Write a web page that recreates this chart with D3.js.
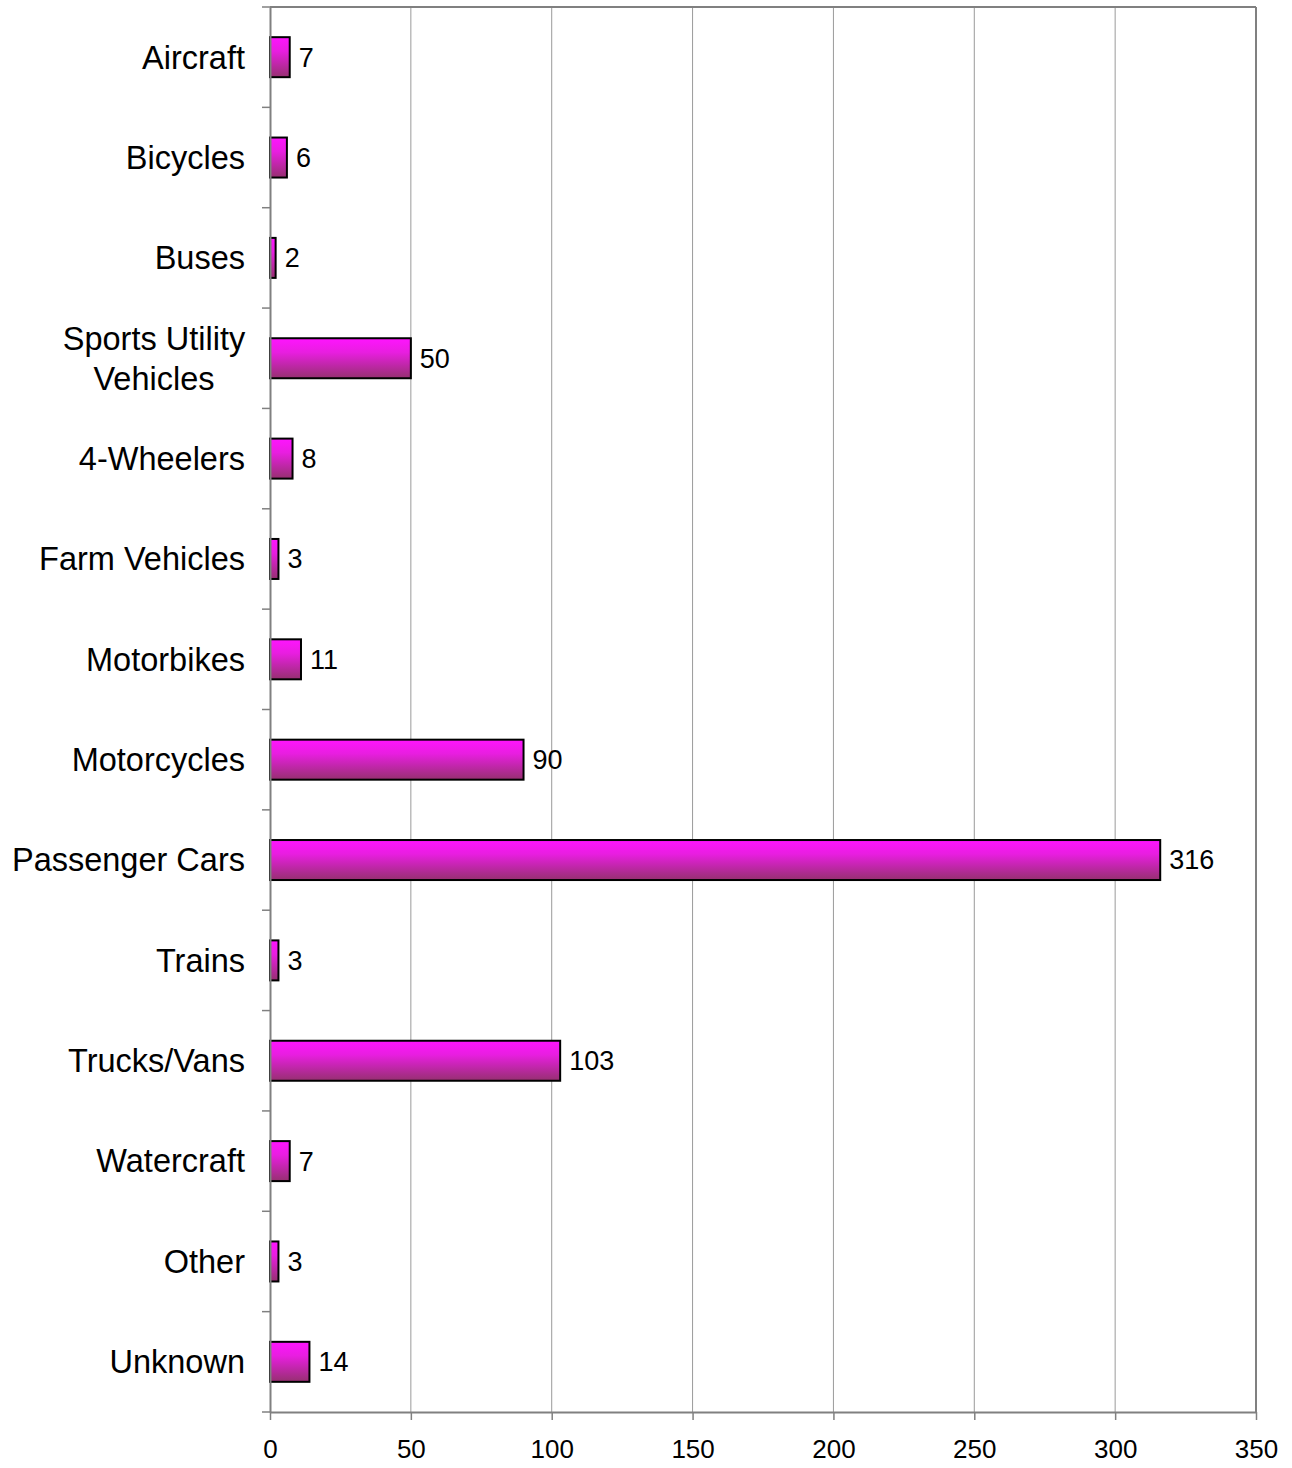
<!DOCTYPE html>
<html>
<head>
<meta charset="utf-8">
<script src="https://cdn.jsdelivr.net/npm/d3@7"></script>
<style>
  body { margin: 0; background: #fff; }
  text { font-family: "Liberation Sans", Arial, sans-serif; }
</style>
</head>
<body>
<div id="chart"></div>
<script>
const categories = ["Aircraft", "Bicycles", "Buses", "Sports Utility\nVehicles", "4-Wheelers", "Farm Vehicles",
  "Motorbikes", "Motorcycles", "Passenger Cars", "Trains", "Trucks/Vans", "Watercraft", "Other", "Unknown"];
const counts = [7, 6, 2, 50, 8, 3, 11, 90, 316, 3, 103, 7, 3, 14];
const xTicks = [0, 50, 100, 150, 200, 250, 300, 350];

const W = 1292, H = 1468;
const margin = { top: 7, right: 36, bottom: 56, left: 270 };
const width = W - margin.left - margin.right,
  height = H - margin.top - margin.bottom;

const svg = d3.select("#chart").append("svg")
  .attr("width", W).attr("height", H);

const defs = svg.append("defs");
const grad = defs.append("linearGradient")
  .attr("id", "barGrad").attr("x1", 0).attr("y1", 0).attr("x2", 0).attr("y2", 1);
grad.append("stop").attr("offset", "0%").attr("stop-color", "#ff14ff");
grad.append("stop").attr("offset", "35%").attr("stop-color", "#e81ee0");
grad.append("stop").attr("offset", "100%").attr("stop-color", "#963070");

const g = svg.append("g").attr("transform", `translate(${margin.left},${margin.top})`);

const x = d3.scaleLinear().domain([0, 350]).range([0, width]);
const y = d3.scaleBand().domain(categories).range([0, height]);

// gridlines
g.append("g").selectAll("line")
  .data(xTicks.slice(1, -1))
  .join("line")
  .attr("x1", d => x(d)).attr("x2", d => x(d))
  .attr("y1", 0).attr("y2", height)
  .attr("stroke", "#9a9a9a").attr("stroke-width", 1);

// frame top and right
g.append("line").attr("x1", 0).attr("x2", width).attr("y1", 0).attr("y2", 0)
  .attr("stroke", "#808080").attr("stroke-width", 2);
g.append("line").attr("x1", width).attr("x2", width).attr("y1", 0).attr("y2", height)
  .attr("stroke", "#808080").attr("stroke-width", 2);

// bars
const barH = 40;
g.append("g").selectAll("rect")
  .data(counts)
  .join("rect")
  .attr("x", x(0))
  .attr("y", (d, i) => y(categories[i]) + y.bandwidth() / 2 - barH / 2)
  .attr("width", d => x(d) - x(0))
  .attr("height", barH)
  .attr("fill", "url(#barGrad)")
  .attr("stroke", "#000")
  .attr("stroke-width", 2);

// value labels
g.append("g").selectAll("text")
  .data(counts)
  .join("text")
  .attr("x", d => x(d) + 9)
  .attr("y", (d, i) => y(categories[i]) + y.bandwidth() / 2)
  .attr("dy", "0.35em")
  .style("font-size", "27px")
  .attr("fill", "#000")
  .text(d => d);

// y axis
const yAxis = g.append("g")
  .call(d3.axisLeft(y).tickSize(0).tickFormat(""));
yAxis.select(".domain").attr("stroke", "#808080").attr("stroke-width", 2);
g.append("g").selectAll("line")
  .data(d3.range(categories.length + 1))
  .join("line")
  .attr("x1", -8).attr("x2", 0)
  .attr("y1", i => i * y.step()).attr("y2", i => i * y.step())
  .attr("stroke", "#808080").attr("stroke-width", 1.5);

// category labels
const labels = g.append("g").selectAll("text")
  .data(categories)
  .join("text")
  .attr("text-anchor", "middle")
  .style("font-size", "32.5px")
  .attr("fill", "#000");
labels.each(function (d) {
  const lines = d.split("\n");
  const t = d3.select(this);
  const cy = y(d) + y.bandwidth() / 2;
  if (lines.length === 1) {
    t.attr("text-anchor", "end")
      .attr("x", -25).attr("y", cy).attr("dy", "0.35em").text(d);
  } else {
    lines.forEach((ln, k) => {
      t.append("tspan")
        .attr("x", -116)
        .attr("y", cy + (k - (lines.length - 1) / 2) * 40)
        .attr("dy", "0.35em")
        .text(ln);
    });
  }
});

// x axis
const xAxis = g.append("g")
  .attr("transform", `translate(0,${height})`)
  .call(d3.axisBottom(x).tickValues(xTicks).tickSize(8).tickPadding(20).tickSizeOuter(0));
xAxis.select(".domain").attr("stroke", "#808080").attr("stroke-width", 2);
xAxis.selectAll(".tick line").attr("stroke", "#808080").attr("stroke-width", 1.5);
xAxis.selectAll(".tick text")
  .style("font-size", "26px")
  .style("font-family", "'Liberation Sans', Arial, sans-serif")
  .attr("fill", "#000");
</script>
</body>
</html>
